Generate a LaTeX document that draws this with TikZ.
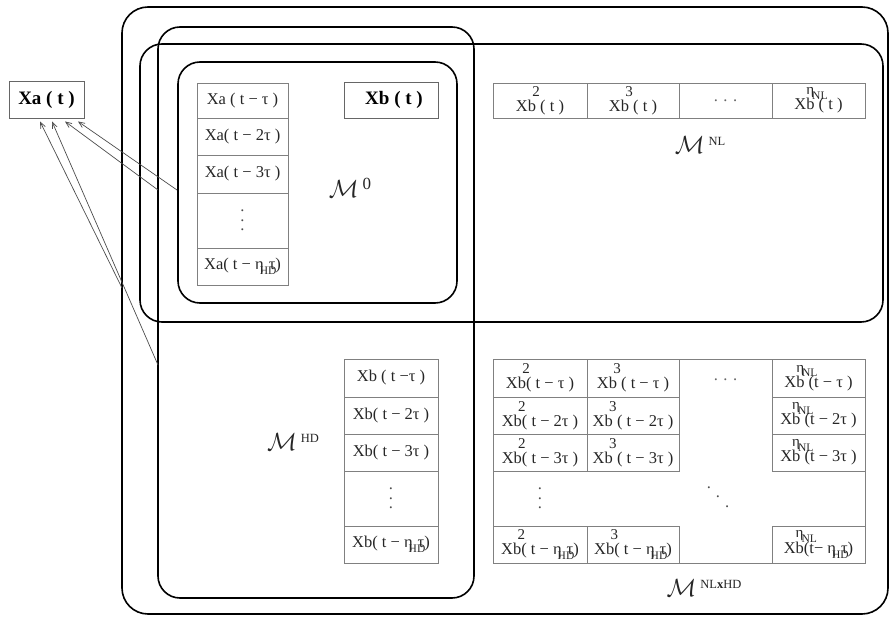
\documentclass[tikz,border=0pt]{standalone}
\usepackage{fontspec}
\setmainfont{Liberation Serif}
\usetikzlibrary{arrows.meta,calc}
\newcommand\cellfont{\fontsize{16.5bp}{18bp}\selectfont}
\newcommand\supfont{\fontsize{15bp}{15bp}\selectfont}
\newcommand\smallsub{\fontsize{11.5bp}{11.5bp}\selectfont}
\newcommand\pwr[2]{Xb\makebox[0pt][c]{\raisebox{0.92em}{\supfont #1}}#2}
\newcommand\pwrn[1]{X\makebox[0pt][l]{\raisebox{0.92em}{\supfont η\hspace{-2bp}\raisebox{-0.3em}{\smallsub NL}}}b#1}
\newcommand\etahd{η\hspace{-4bp}\rlap{\raisebox{-5bp}{\smallsub HD}}\hspace{9bp}τ}
\newcommand\mlab[2]{$\mathcal{M}$\hspace{4bp}\raisebox{8bp}{\fontsize{#2}{#2}\selectfont #1}}
\newcommand\myvd{\textcolor{black!70}{\vbox{\baselineskip=9.5bp\lineskiplimit=0pt\hbox{.}\hbox{.}\hbox{.}}}}
\newcommand\mydd{\textcolor{black!70}{\hbox{\raisebox{19bp}{.}\hspace{5bp}\raisebox{9.5bp}{.}\hspace{5bp}.}}}
\begin{document}
\begin{tikzpicture}[x=1bp,y=-1bp,
  frame/.style={line width=1.6bp, rounded corners=22bp},
  cell/.style={draw=black!50, line width=0.8bp, inner sep=0pt, font=\cellfont, text=black!85},
  bare/.style={inner sep=0pt, font=\cellfont, text=black!85},
  boldbox/.style={draw=black!60, line width=0.9bp, inner sep=0pt, font=\fontsize{19bp}{21bp}\selectfont\bfseries},
  mlabel/.style={inner sep=0pt, font=\fontsize{24bp}{26bp}\selectfont, text=black!85},
  arr/.style={draw=black!70, line width=0.7bp, -{Straight Barb[length=6bp,width=5bp]}}]
\useasboundingbox (0,0) rectangle (891,617);

% frames
\draw[frame, rounded corners=26bp] (122,7) rectangle (888,614);
\draw[frame] (158,27) rectangle (474,598);
\draw[frame] (140,44) rectangle (883,322);
\draw[frame] (178,62) rectangle (457,303);

% Xa(t)
\node[boldbox, minimum width=75bp, minimum height=37bp] (xa) at (46.5,99.5) {Xa ( t )};

% Xa column
\node[cell, minimum width=91bp, minimum height=35bp] (a1) at (242.5,100.5) {Xa ( t − τ )};
\node[cell, minimum width=91bp, minimum height=37bp] (a2) at (242.5,136.5) {Xa( t − 2τ )};
\node[cell, minimum width=91bp, minimum height=38bp] (a3) at (242.5,174) {Xa( t − 3τ )};
\node[cell, minimum width=91bp, minimum height=55bp] (a4) at (242.5,220.5) {\myvd};
\node[cell, minimum width=91bp, minimum height=37bp] (a5) at (242.5,266.5) {Xa( t − \etahd)};

% Xb(t)
\node[boldbox, minimum width=94bp, minimum height=36bp] (xb) at (391,100) {\hspace{6bp}Xb ( t )};

% NL row
\node[cell, minimum width=94bp, minimum height=35bp] (n2) at (540,100.5) {\pwr{2}{ ( t )}};
\node[cell, minimum width=92bp, minimum height=35bp] (n3) at (633,100.5) {\pwr{3}{ ( t )}};
\node[cell, minimum width=93bp, minimum height=35bp] (nd) at (725.5,100.5) {\textcolor{black!60}{. . .}};
\node[cell, minimum width=93bp, minimum height=35bp] (nn) at (818.5,100.5) {\pwrn{ ( t )}};

% Xb column (HD)
\node[cell, minimum width=94bp, minimum height=38bp] (b1) at (391,378) {Xb ( t −τ )};
\node[cell, minimum width=94bp, minimum height=37bp] (b2) at (391,415.5) {Xb( t − 2τ )};
\node[cell, minimum width=94bp, minimum height=37bp] (b3) at (391,452.5) {Xb( t − 3τ )};
\node[cell, minimum width=94bp, minimum height=55bp] (b4) at (391,498.5) {\myvd};
\node[cell, minimum width=94bp, minimum height=37bp] (b5) at (391,544.5) {Xb( t − \etahd)};

% NLxHD grid
\node[cell, minimum width=372bp, minimum height=204bp] (grid) at (679,461) {};
\node[cell, minimum width=94bp, minimum height=38bp] (g21) at (540,378) {\pwr{2}{( t − τ )}};
\node[cell, minimum width=94bp, minimum height=37bp] (g22) at (540,415.5) {\pwr{2}{( t − 2τ )}};
\node[cell, minimum width=94bp, minimum height=37bp] (g23) at (540,452.5) {\pwr{2}{( t − 3τ )}};
\node[bare] (g24) at (540,498.5) {\myvd};
\node[cell, minimum width=94bp, minimum height=37bp] (g25) at (540,544.5) {\pwr{2}{( t − \etahd)}};
\node[cell, minimum width=92bp, minimum height=38bp] (g31) at (633,378) {\pwr{3}{ ( t − τ )}};
\node[cell, minimum width=92bp, minimum height=37bp] (g32) at (633,415.5) {\pwr{3}{ ( t − 2τ )}};
\node[cell, minimum width=92bp, minimum height=37bp] (g33) at (633,452.5) {\pwr{3}{ ( t − 3τ )}};
\node[cell, minimum width=92bp, minimum height=37bp] (g35) at (633,544.5) {\pwr{3}{( t − \etahd)}};
\node[bare] (gd1) at (725.5,380) {\textcolor{black!60}{. . .}};
\node[bare] (gdd) at (718,497) {\mydd};
\node[cell, minimum width=93bp, minimum height=38bp] (gn1) at (818.5,378) {\pwrn{ (t − τ )}};
\node[cell, minimum width=93bp, minimum height=37bp] (gn2) at (818.5,415.5) {\pwrn{ (t − 2τ )}};
\node[cell, minimum width=93bp, minimum height=37bp] (gn3) at (818.5,452.5) {\pwrn{ (t − 3τ )}};
\node[cell, minimum width=93bp, minimum height=37bp] (gn5) at (818.5,544.5) {\pwrn{(t− \etahd)}};

% labels
\node[mlabel] (m0) at (350,188) {\mlab{0}{17bp}};
\node[mlabel] (mnl) at (700,145) {\mlab{NL}{12.5bp}};
\node[mlabel] (mhd) at (293,442) {\mlab{HD}{12.5bp}};
\node[mlabel] (mnlhd) at (704,588) {\mlab{NL\textbf{x}HD}{12.5bp}};

% arrows
\coordinate (e1) at (122,288);
\coordinate (e2) at (158,365);
\coordinate (e3) at (158,190);
\coordinate (e4) at (177,190);
\draw[arr] (e1) -- ($(xa.south)+(-6.5,3)$);
\draw[arr] (e2) -- ($(xa.south)+(5.5,3)$);
\draw[arr] (e3) -- ($(xa.south)+(18.5,3)$);
\draw[arr] (e4) -- ($(xa.south)+(31.5,3)$);
\end{tikzpicture}
\end{document}
